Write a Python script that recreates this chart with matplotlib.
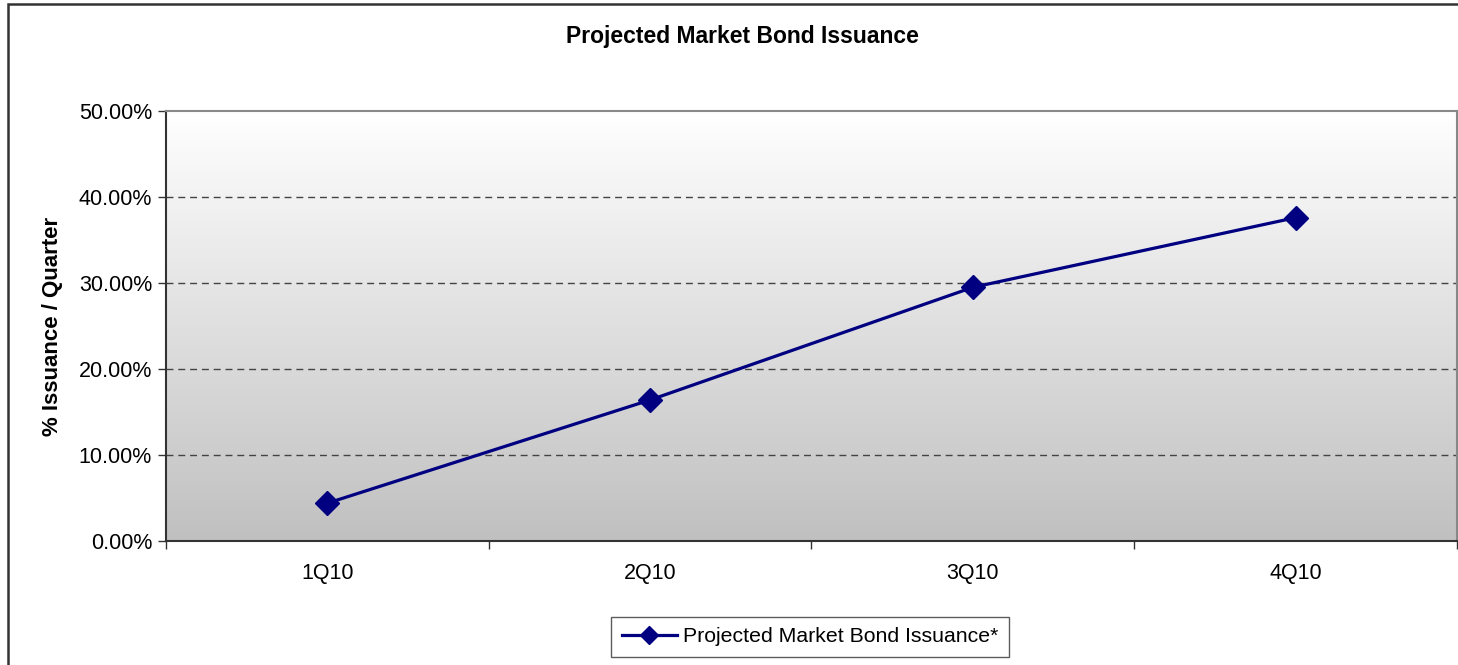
import matplotlib.pyplot as plt
import numpy as np
from matplotlib.patches import Rectangle
from matplotlib.colors import LinearSegmentedColormap

plt.rcParams['font.family'] = ['Liberation Sans', 'DejaVu Sans']

quarters = ['1Q10', '2Q10', '3Q10', '4Q10']
issuance = [4.4, 16.4, 29.5, 37.6]
y_ticks = [0, 10, 20, 30, 40, 50]
series_name = 'Projected Market Bond Issuance*'

fig = plt.figure(figsize=(14.58, 6.65), dpi=100)

# outer chart frame (runs off the right and bottom edges)
fig.patches.append(Rectangle((8 / 1458, -0.05), 1.2, 1 - 4 / 665 + 0.05,
                             transform=fig.transFigure, fill=False,
                             edgecolor='#333333', linewidth=1.8))

ax = fig.add_axes([166 / 1458, 124 / 665, 1291 / 1458, 430 / 665])

# vertical gradient fill of the plot area, white at top to grey at bottom
fade = LinearSegmentedColormap.from_list('fade', ['#ffffff', '#c0c0c0'])
grad = np.linspace(0.0, 1.0, 256).reshape(-1, 1)
ax.imshow(grad, cmap=fade, vmin=0, vmax=1, aspect='auto',
          extent=[0, 1, 0, 1], transform=ax.transAxes, zorder=0)

x = np.arange(len(quarters))
ax.plot(x, issuance, color='#000080', linewidth=2.3, marker='D',
        markersize=12, label=series_name, zorder=3)

ax.set_xlim(-0.5, len(quarters) - 0.5)
ax.set_ylim(0, 50)

for v in y_ticks[1:-1]:
    ax.axhline(v, color='#444444', linestyle=(0, (5, 3.5)), linewidth=1.0, zorder=1)

ax.set_yticks(y_ticks)
ax.set_yticklabels(['%.2f%%' % v for v in y_ticks], fontsize=15.5)
ax.set_xticks(x)
ax.set_xticklabels(quarters, fontsize=15.5)
ax.tick_params(axis='x', which='major', length=0, pad=16)
ax.set_xticks(np.arange(-0.5, len(quarters)), minor=True)
ax.tick_params(axis='x', which='minor', length=6, width=1, color='#333333')
ax.tick_params(axis='y', length=6, width=1, color='#333333', pad=4)

ax.spines['left'].set_color('#333333')
ax.spines['bottom'].set_color('#333333')
ax.spines['left'].set_linewidth(1.5)
ax.spines['bottom'].set_linewidth(1.5)
ax.spines['top'].set_color('#888888')
ax.spines['right'].set_color('#888888')
ax.spines['top'].set_linewidth(1.5)
ax.spines['right'].set_linewidth(1.5)

ax.set_ylabel('% Issuance / Quarter', fontsize=16, fontweight='bold', labelpad=11)
fig.text(742 / 1458, 1 - 37 / 665, 'Projected Market Bond Issuance',
         fontsize=16.5, fontweight='bold', ha='center', va='center')

leg = fig.legend(loc='center', bbox_to_anchor=(810 / 1458, 1 - 637 / 665),
                 fontsize=15.3, frameon=True, fancybox=False, handlelength=2.6,
                 borderpad=0.5, borderaxespad=0, handletextpad=0.3)
leg.get_frame().set_edgecolor('#333333')
leg.get_frame().set_linewidth(1.0)
for h in leg.legend_handles:
    h.set_markersize(9)

fig.savefig('out.png', dpi=100)
